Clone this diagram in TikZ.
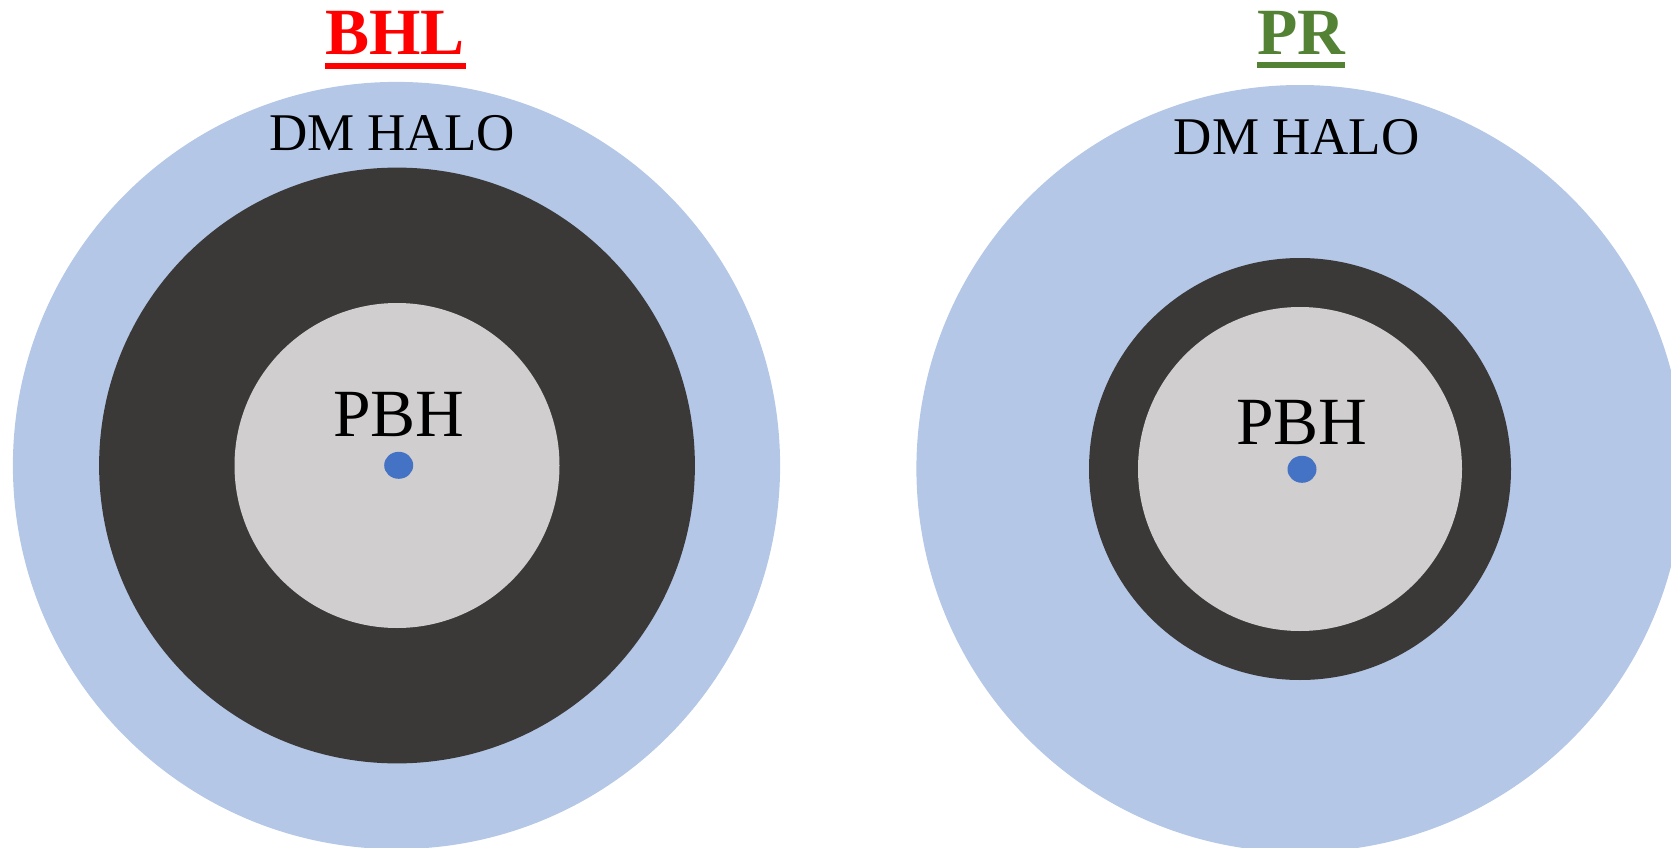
\documentclass[tikz,border=0pt]{standalone}
\usepackage{fontspec}
\setmainfont{Liberation Serif}
\definecolor{halo}{HTML}{B4C7E7}
\definecolor{shell}{HTML}{3B3838}
\definecolor{core}{HTML}{D0CECE}
\definecolor{dot}{HTML}{4472C4}
\definecolor{prgreen}{HTML}{548235}
\definecolor{bhlred}{HTML}{FF0000}
\tikzset{
  halodisk/.style={fill=halo},
  shelldisk/.style={fill=shell},
  coredisk/.style={fill=core},
  pbhdot/.style={fill=dot},
  halolabel/.style={anchor=base, inner sep=0pt, font=\fontsize{53}{62}\selectfont},
  pbhlabel/.style={anchor=base, inner sep=0pt, font=\fontsize{67.5}{78}\selectfont},
  titlelabel/.style={anchor=base, inner sep=0pt, font=\fontsize{66}{76}\selectfont\bfseries},
}
\begin{document}
\begin{tikzpicture}[x=1pt,y=-1pt]
\useasboundingbox (0,0) rectangle (1671,848);
\clip (0,0) rectangle (1671,848);
% Left: BHL
\fill[halodisk] (396.5,465.5) circle[radius=383.6pt];
\fill[shelldisk] (397,465.5) circle[radius=297.9pt];
\fill[coredisk] (397,465.5) circle[radius=162.5pt];
\fill[pbhdot] (398.7,465.3) ellipse[x radius=14.5pt, y radius=13.5pt];
\node[halolabel] (haloL) at (392,151) {DM HALO};
\node[pbhlabel] (pbhL) at (398.7,436) {PBH};
\node[titlelabel, text=bhlred] (bhl) at (395,55) {BHL};
\fill[bhlred] (325,63) rectangle (466,68.7);
% Right: PR
\fill[halodisk] (1300,468.6) circle[radius=383.6pt];
\fill[shelldisk] (1300,469) circle[radius=211pt];
\fill[coredisk] (1300,469) circle[radius=162pt];
\fill[pbhdot] (1302,469.3) ellipse[x radius=14.5pt, y radius=13.5pt];
\node[halolabel] (haloR) at (1296.7,154) {DM HALO};
\node[pbhlabel] (pbhR) at (1302,444.5) {PBH};
\node[titlelabel, text=prgreen] (pr) at (1301.5,55) {PR};
\fill[prgreen] (1256.7,61.7) rectangle (1345,67.7);
\end{tikzpicture}
\end{document}
